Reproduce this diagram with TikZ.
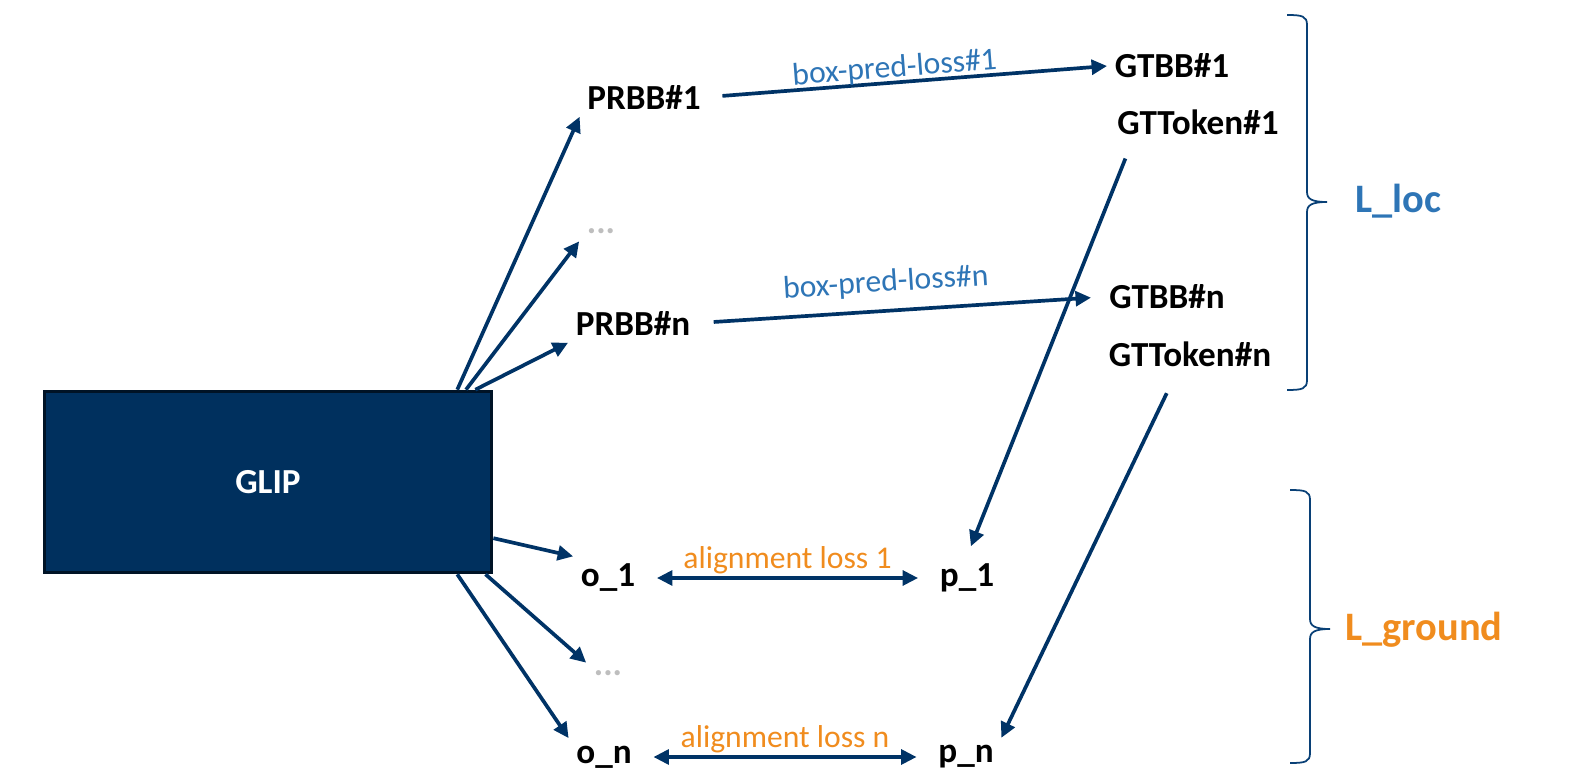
\documentclass[tikz,border=0pt]{standalone}
\usepackage{fontspec}
\setmainfont{Carlito}
\usepackage{xcolor}
\usetikzlibrary{arrows.meta,positioning}
\definecolor{glipnavy}{RGB}{0,48,94}
\definecolor{arrownavy}{RGB}{0,51,102}
\definecolor{lossblue}{RGB}{46,117,182}
\definecolor{lossorange}{RGB}{240,140,30}
\definecolor{dotgray}{RGB}{190,190,190}

\begin{document}
\begin{tikzpicture}[x=0.01cm,y=-0.01cm,
    item/.style={font=\fontsize{10}{12}\selectfont\bfseries,inner sep=2pt},
    dots/.style={font=\fontsize{10}{12}\selectfont\bfseries,text=dotgray,inner sep=2pt},
    model/.style={rectangle,draw=black!60!glipnavy,line width=1pt,fill=glipnavy,minimum width=4.47cm,minimum height=1.81cm,text=white,font=\fontsize{10}{12}\selectfont\bfseries},
    arrow/.style={-{Triangle[length=4.4pt,width=4.2pt]},line width=1.05pt,draw=arrownavy},
    twoway/.style={{Triangle[length=4.4pt,width=4.2pt]}-{Triangle[length=4.4pt,width=4.2pt]},line width=1.05pt,draw=arrownavy},
    losstext/.style={font=\fontsize{9}{11}\selectfont,inner sep=0.5pt},
    lossbrace/.style={draw=arrownavy!80!lossblue,line width=0.5pt},
    sumloss/.style={font=\fontsize{11.5}{14}\selectfont\bfseries}
]
    \useasboundingbox (0,0) rectangle (1572,782);

    % Model
    \node[model] (glip) at (268,482) {GLIP};

    % Predicted boxes
    \node[item] (prbb1) at (644,97) {PRBB\#1};
    \node[dots] (dotsup) at (601,231) {...};
    \node[item] (prbbn) at (633,323) {PRBB\#n};

    % Ground truth
    \node[item] (gtbb1) at (1172,66) {GTBB\#1};
    \node[item] (gttok1) at (1198,122) {GTToken\#1};
    \node[item] (gtbbn) at (1167,297) {GTBB\#n};
    \node[item] (gttokn) at (1190,354) {GTToken\#n};

    % Region and token features
    \node[item] (o1) at (608,578) {o\_1};
    \node[dots] (dotsdown) at (608,673) {...};
    \node[item] (on) at (604,757) {o\_n};
    \node[item] (p1) at (967,578) {p\_1};
    \node[item] (pn) at (966,757) {p\_n};

    % Model outputs
    \draw[arrow] (glip.26) -- (prbb1.south west);
    \draw[arrow] (glip.25) -- (dotsup.south west);
    \draw[arrow] (glip.24) -- (prbbn.south west);
    \draw[arrow] (glip.-14) -- (o1.north west);
    \draw[arrow] (glip.-23) -- (dotsdown.north west);
    \draw[arrow] (glip.-26) -- (on.north west);

    % Box losses
    \draw[arrow,shorten <=4pt] (prbb1.east) -- (gtbb1.west) node[losstext,text=lossblue,pos=0.47,above=-1pt,sloped] {box-pred-loss\#1};
    \draw[arrow,shorten <=4.5pt,shorten >=3pt] (prbbn.east) -- (gtbbn.west) node[losstext,text=lossblue,pos=0.47,above=3pt,sloped] {box-pred-loss\#n};

    % Tokens to features
    \draw[arrow,shorten <=5pt,shorten >=3pt] (gttok1.197) -- (p1.north);
    \draw[arrow,shorten <=6pt] (gttokn.235) -- (pn.north east);

    % Alignment losses
    \draw[twoway,shorten <=4pt,shorten >=4pt] (o1.east) -- (p1.west) node[losstext,text=lossorange,midway,above] {alignment loss 1};
    \draw[twoway,shorten <=4pt,shorten >=4pt] (on.east) -- (pn.west) node[losstext,text=lossorange,midway,above] {alignment loss n};

    % Total losses
    \draw[lossbrace] (1287,15) .. controls (1302,15) and (1307,16) .. (1307,25) -- (1307,192)
        .. controls (1307,199) and (1312,202) .. (1327,202) .. controls (1312,202) and (1307,205) .. (1307,212)
        -- (1307,380) .. controls (1307,389) and (1302,390) .. (1287,390);
    \node[sumloss,text=lossblue] (lloc) at (1398,201) {L\_loc};
    \draw[lossbrace] (1290,490) .. controls (1305,490) and (1310,491) .. (1310,500) -- (1310,619)
        .. controls (1310,626) and (1315,629) .. (1330,629) .. controls (1315,629) and (1310,632) .. (1310,639)
        -- (1310,753) .. controls (1310,762) and (1305,763) .. (1290,763);
    \node[sumloss,text=lossorange] (lground) at (1424,630) {L\_ground};
\end{tikzpicture}
\end{document}
